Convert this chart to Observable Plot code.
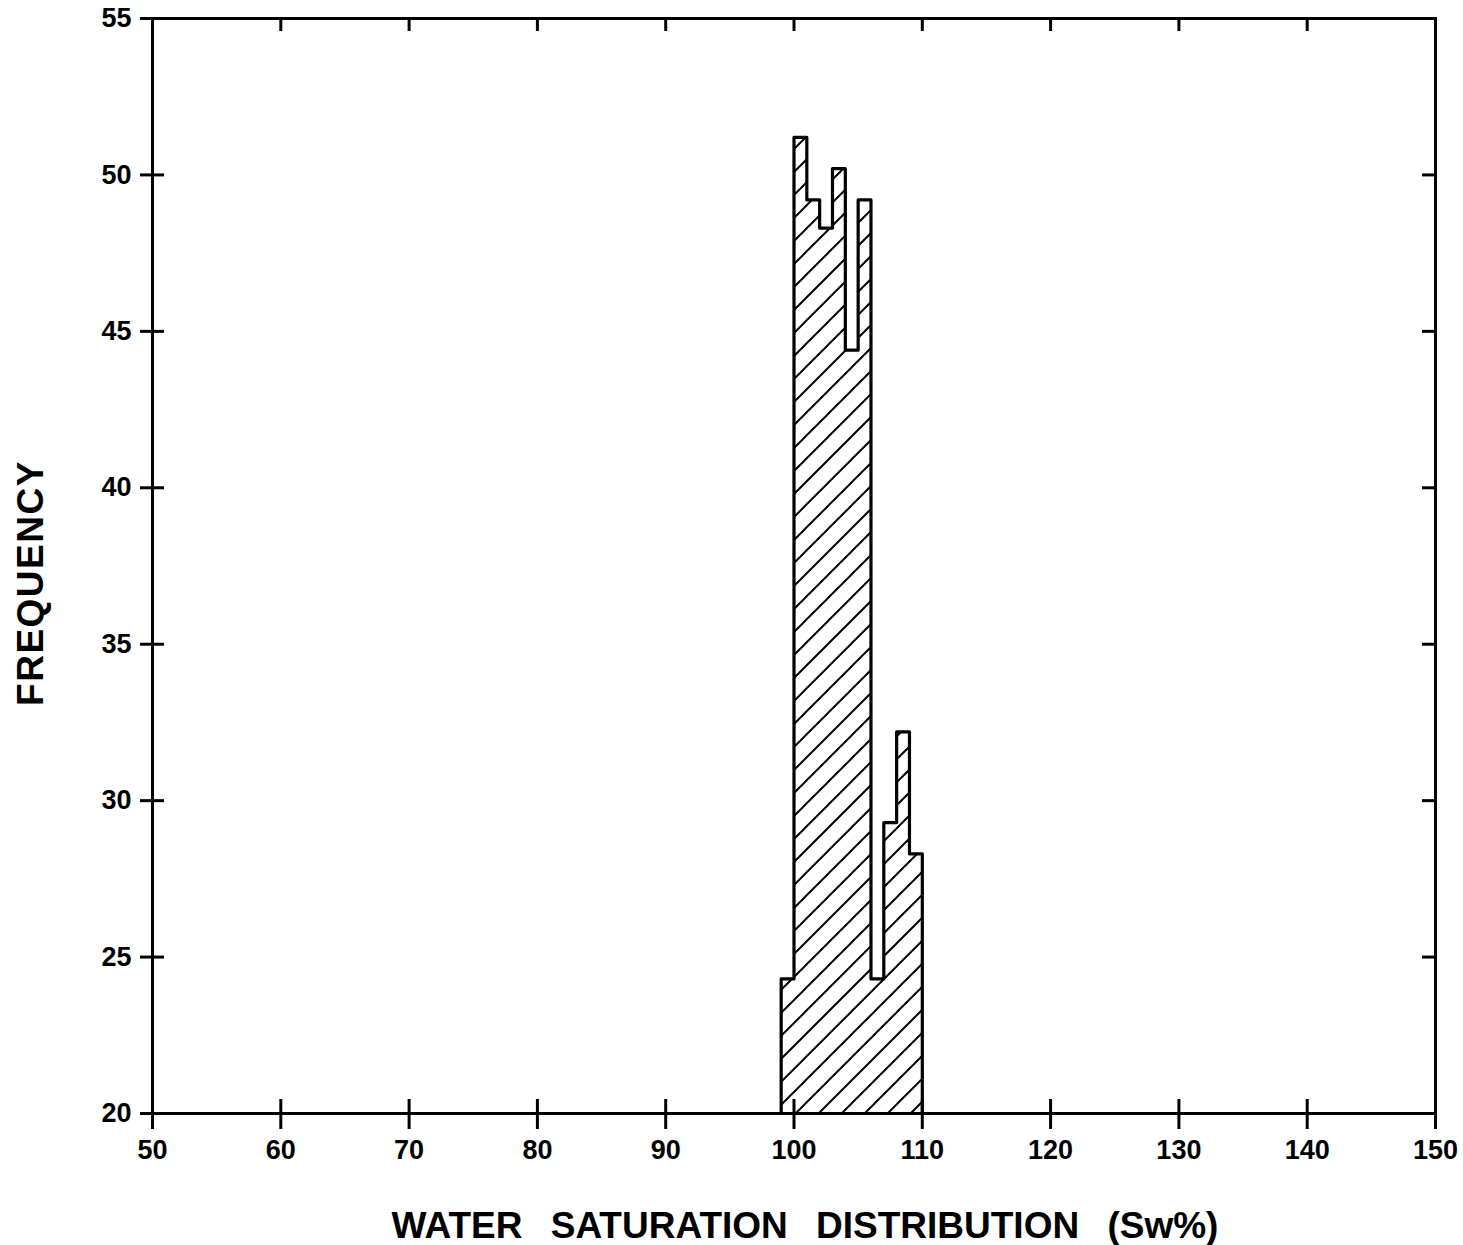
<!DOCTYPE html>
<html>
<head>
<meta charset="utf-8">
<script src="https://cdn.jsdelivr.net/npm/d3@7"></script>
<script src="https://cdn.jsdelivr.net/npm/@observablehq/plot@0.6"></script>
<style>
  html, body { margin: 0; padding: 0; background: #fff; }
  svg { display: block; }
</style>
</head>
<body>
<div id="chart"></div>
<script>
// ---- data ----
const binStarts = [99, 100, 101, 102, 103, 104, 105, 106, 107, 108, 109];
const binWidth = 1;
const frequencies = [24.3, 51.2, 49.2, 48.3, 50.2, 44.4, 49.2, 24.3, 29.3, 32.2, 28.3];
const xTicks = [50, 60, 70, 80, 90, 100, 110, 120, 130, 140, 150];
const yTicks = [20, 25, 30, 35, 40, 45, 50, 55];
const xDomain = [50, 150];
const yDomain = [20, 55];
const xLabel = "WATER SATURATION DISTRIBUTION (Sw%)";
const yLabel = "FREQUENCY";

// step points for the histogram envelope
const base = yDomain[0];
const stepPts = binStarts.map((s, i) => ({x: s, y: frequencies[i]}));
const lastEnd = binStarts[binStarts.length - 1] + binWidth;
stepPts.push({x: lastEnd, y: frequencies[frequencies.length - 1]});
const outlinePts = [{x: binStarts[0], y: base}, ...stepPts, {x: lastEnd, y: base}];

const W = 1463, H = 1245;
const font = "'Liberation Sans', Arial, Helvetica, sans-serif";

const chart = Plot.plot({
  width: W,
  height: H,
  marginLeft: 152,
  marginRight: 28,
  marginTop: 18,
  marginBottom: 132,
  style: {fontFamily: font, fontWeight: "bold", background: "#fff", color: "#000"},
  x: {domain: xDomain, axis: null},
  y: {domain: yDomain, axis: null},
  marks: [
    Plot.areaY(stepPts, {x: "x", y1: () => base, y2: "y", curve: "step-after", fill: "url(#hatch)"}),
    Plot.lineY(outlinePts, {x: "x", y: "y", curve: "step-after", stroke: "#000", strokeWidth: 3.2, strokeLinejoin: "round"}),
    Plot.frame({stroke: "#000", strokeWidth: 3}),
    // bottom ticks (crossing)
    Plot.ruleX(xTicks, {x: d => d, y1: () => yDomain[0], y2: () => yDomain[0], insetTop: 16, insetBottom: 14, stroke: "#000", strokeWidth: 3}),
    // top ticks (inward)
    Plot.ruleX(xTicks, {x: d => d, y1: () => yDomain[1], y2: () => yDomain[1], insetTop: 13, insetBottom: 0, stroke: "#000", strokeWidth: 3}),
    // left ticks (crossing)
    Plot.ruleY(yTicks, {y: d => d, x1: () => xDomain[0], x2: () => xDomain[0], insetLeft: -12, insetRight: -12, stroke: "#000", strokeWidth: 3}),
    // right ticks (inward)
    Plot.ruleY(yTicks, {y: d => d, x1: () => xDomain[1], x2: () => xDomain[1], insetLeft: -13, insetRight: 0, stroke: "#000", strokeWidth: 3}),
    Plot.axisX(xTicks, {tickSize: 0, tickPadding: 26, fontSize: 27, fontWeight: "bold", label: null}),
    Plot.axisY(yTicks, {tickSize: 0, tickPadding: 21, fontSize: 27, fontWeight: "bold", label: null}),
    Plot.text([xLabel], {frameAnchor: "bottom", lineAnchor: "bottom", textAnchor: "middle", dy: 124, dx: 11, fontSize: 37, fontWeight: "bold", fill: "#000", className: "xlab"}),
    Plot.text([yLabel], {frameAnchor: "left", textAnchor: "middle", rotate: -90, dx: -121, dy: 17, fontSize: 37, fontWeight: "bold", fill: "#000", className: "ylab"})
  ]
});

// hatch pattern definition
const ns = "http://www.w3.org/2000/svg";
const defs = document.createElementNS(ns, "defs");
const pat = document.createElementNS(ns, "pattern");
pat.setAttribute("id", "hatch");
pat.setAttribute("patternUnits", "userSpaceOnUse");
pat.setAttribute("width", "23");
pat.setAttribute("height", "23");
const p = document.createElementNS(ns, "path");
p.setAttribute("d", "M0,23 L23,0 M-6,6 L6,-6 M17,29 L29,17");
p.setAttribute("stroke", "#000");
p.setAttribute("stroke-width", "2");
p.setAttribute("fill", "none");
pat.appendChild(p);
defs.appendChild(pat);
chart.insertBefore(defs, chart.firstChild);

// wide word spacing / letter spacing as in the original typesetting
d3.select(chart).selectAll(".xlab text").style("word-spacing", "18px");
d3.select(chart).selectAll(".ylab text").style("letter-spacing", "1.5px");

document.getElementById("chart").appendChild(chart);
</script>
</body>
</html>
